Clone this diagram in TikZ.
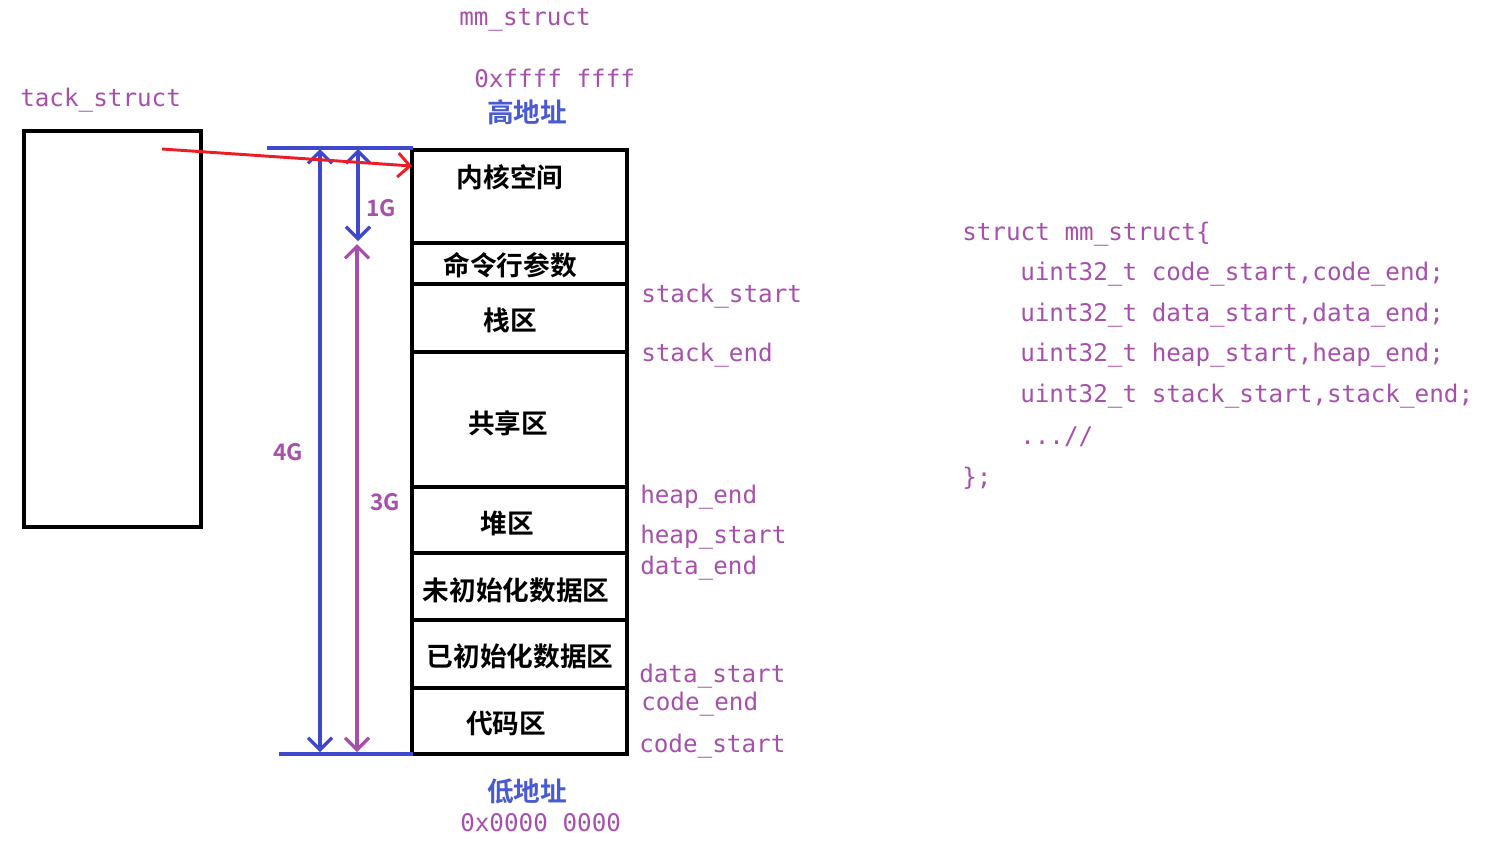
\documentclass[tikz,border=0pt]{standalone}
\usepackage{fontspec}
\setmonofont{DejaVu Sans Mono}
\newfontfamily\cjk{Noto Sans CJK SC}[BoldFont={Noto Sans CJK SC Bold}]
\usetikzlibrary{arrows.meta}
\definecolor{purp}{HTML}{A650AC}
\definecolor{blu}{HTML}{3F48CC}
\definecolor{bluetxt}{HTML}{4A5BD0}
\definecolor{redc}{HTML}{EE1C24}
\tikzset{
  mono/.style={font=\ttfamily\fontsize{18.2}{20}\selectfont, text=purp, inner sep=0pt, anchor=west},
  celltext/.style={font=\cjk\bfseries\fontsize{20}{22}\selectfont, inner sep=0pt},
  addr/.style={font=\cjk\bfseries\fontsize{20}{22}\selectfont, text=bluetxt, inner sep=0pt},
  glab/.style={font=\cjk\bfseries\fontsize{17}{19}\selectfont, text=purp, inner sep=0pt},
  barb/.style={{Straight Barb[length=9pt,width=18pt]}-{Straight Barb[length=9pt,width=18pt]}, line width=2.4pt},
}
\begin{document}
\begin{tikzpicture}[x=0.75pt,y=-0.75pt]
\useasboundingbox (0,0) rectangle (1495,843);
% left task struct box
\node[draw=black, line width=2.4pt, minimum width=177*0.75pt, minimum height=396*0.75pt, inner sep=0pt] (task) at (112.5,329) {};
\node[mono] (tasklbl) at (20,100) {tack\_struct};
% titles
\node[mono] (mmlbl) at (459,20) {mm\_struct};
\node[mono] (hi) at (474,78) {0xffff ffff};
\node[addr] (hiaddr) at (527,112) {高地址};
\node[addr] (loaddr) at (527,791) {低地址};
\node[mono] (lo) at (460,823) {0x0000 0000};
% memory cells
\coordinate (c0) at (519.5,150);
\coordinate (c1) at (519.5,243);
\coordinate (c2) at (519.5,284);
\coordinate (c3) at (519.5,352);
\coordinate (c4) at (519.5,487);
\coordinate (c5) at (519.5,553);
\coordinate (c6) at (519.5,620);
\coordinate (c7) at (519.5,688);
\coordinate (c8) at (519.5,754);
\draw[line width=2.6pt] (412,150) rectangle (627,754);
\foreach \i in {1,...,7} \draw[line width=2.6pt] (412,0 |- c\i) -- (627,0 |- c\i);
\node[celltext] (kern) at (510,177) {内核空间};
\node[celltext] (cmd) at (510,265) {命令行参数};
\node[celltext] (stack) at (510,320) {栈区};
\node[celltext] (shared) at (508,423) {共享区};
\node[celltext] (heap) at (507,523) {堆区};
\node[celltext] (bss) at (516,590) {未初始化数据区};
\node[celltext] (data) at (520,656) {已初始化数据区};
\node[celltext] (code) at (506,723) {代码区};
% right labels
\node[mono] (ss) at (641,296) {stack\_start};
\node[mono] (se) at (641,355) {stack\_end};
\node[mono] (he) at (640,497) {heap\_end};
\node[mono] (hs) at (640,537) {heap\_start};
\node[mono] (de) at (640,568) {data\_end};
\node[mono] (ds) at (639,676) {data\_start};
\node[mono] (ce) at (641,704) {code\_end};
\node[mono] (cs) at (639,746) {code\_start};
% blue boundary lines
\coordinate (tl) at (267,148);
\coordinate (tr) at (413,148);
\coordinate (bl) at (279,754);
\coordinate (br) at (413,754);
\draw[blu, line width=2.4pt] (tl) -- (tr);
\draw[blu, line width=2.4pt] (bl) -- (br);
% dimension arrows
\coordinate (a4t) at (320,149);
\coordinate (a4b) at (320,752);
\coordinate (a1t) at (358,149);
\coordinate (a1b) at (358,241);
\coordinate (a3t) at (357,244);
\coordinate (a3b) at (357,752);
\draw[barb, blu] (a4t) -- (a4b);
\draw[barb, blu] (a1t) -- (a1b);
\draw[barb, purp] (a3t) -- (a3b);
\node[glab] (g1) at (381,208) {1G};
\node[glab] (g4) at (288,452) {4G};
\node[glab] (g3) at (385,502) {3G};
% red pointer
\coordinate (rp) at (162,149);
\draw[redc, line width=2.2pt, -{Straight Barb[length=9pt,width=18pt]}] (rp) -- (412,166);
% code block
\node[mono] (l0) at (962,234) {struct mm\_struct\{};
\node[mono] (l1) at (1020,274) {uint32\_t code\_start,code\_end;};
\node[mono] (l2) at (1020,315) {uint32\_t data\_start,data\_end;};
\node[mono] (l3) at (1020,355) {uint32\_t heap\_start,heap\_end;};
\node[mono] (l4) at (1020,396) {uint32\_t stack\_start,stack\_end;};
\node[mono] (l5) at (1020,437) {...//};
\node[mono] (l6) at (962,478) {\};};
\end{tikzpicture}
\end{document}
